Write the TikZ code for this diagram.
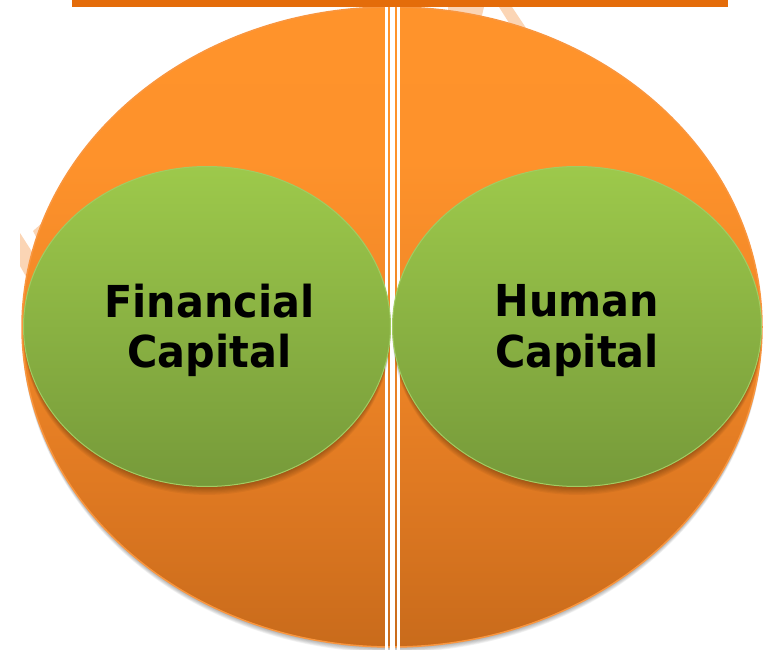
\documentclass[tikz,border=0pt]{standalone}
\usepackage{fontspec}
\setmainfont{DejaVu Sans}
\newfontfamily\capfont[FakeStretch=0.94]{DejaVu Sans Bold}
\usetikzlibrary{shapes.geometric}
\definecolor{barorange}{HTML}{E46C0A}
\definecolor{peach}{HTML}{FBD5B5}
\definecolor{bigtop}{HTML}{FF932B}
\definecolor{bighigh}{HTML}{FE922B}
\definecolor{bigmid}{HTML}{F08727}
\definecolor{biglow}{HTML}{DF7922}
\definecolor{bigbot}{HTML}{C96B1B}
\definecolor{bigedge}{HTML}{F9963F}
\definecolor{greentop}{HTML}{9DC94B}
\definecolor{greenbot}{HTML}{769A3A}
\definecolor{greenedge}{HTML}{A2CC62}
\pgfdeclareverticalshading{bigshade}{100bp}{
  color(0bp)=(bigbot); color(25bp)=(bigbot); color(37.5bp)=(biglow);
  color(50bp)=(bigmid); color(63bp)=(bighigh); color(75bp)=(bigtop); color(100bp)=(bigtop)}
\tikzset{
  x=1pt,y=-1pt,
  bigball/.style={ellipse,inner sep=0pt,minimum width=740pt,minimum height=640pt,
    shading=bigshade,draw=bigedge,line width=1.5pt},
  greenball/.style={ellipse,inner sep=0pt,minimum width=367pt,minimum height=320pt,
    top color=greentop,bottom color=greenbot,draw=greenedge,line width=1pt},
  captext/.style={align=center,text=black,inner sep=0pt,yshift=-4pt,
    font=\fontsize{44}{50.5}\selectfont\capfont},
  stripe/.style={fill=white,draw=none},
  watermark/.style={fill=peach,draw=none},
}
\begin{document}
\begin{tikzpicture}
\useasboundingbox (0,0) rectangle (769,650);
% watermark behind the disc
\fill[watermark] (448,7) -- (484,7) -- (480,24) -- (448,24) -- cycle;
\fill[watermark] (499,7) -- (512,7) -- (530,34) -- (516,34) -- cycle;
\fill[watermark] (20,233) -- (36,258) -- (28,280) -- (20,266) -- cycle;
\fill[watermark] (33,231) -- (42,223) -- (50,223) -- (40,245) -- cycle;
% soft shadow of the disc
\foreach \d in {1,...,7}{
  \fill[black,opacity=0.05] (392,{327+\d*0.8}) ellipse (370 and 320);
}
\node[bigball] (disc) at (392,327) {};
% top bar
\fill[barorange] (72,0) rectangle (728,7);
% vertical double line
\fill[stripe] (385,7) rectangle (387.8,650);
\fill[stripe] (390,7) rectangle (395,650);
\fill[stripe] (397,7) rectangle (399.8,650);
% soft shadows of the two circles
\foreach \d in {1,...,7}{
  \fill[black,opacity=0.045] (207,{326.5+\d*1.2}) ellipse (183.5 and 160);
  \fill[black,opacity=0.045] (577,{326.5+\d*1.2}) ellipse (184.5 and 160);
}
\node[greenball] (fin) at (207,326.5) {};
\node[greenball,minimum width=369pt] (hum) at (577,326.5) {};
\node[captext,xshift=2.5pt] (fintext) at (fin.center) {Financial\\Capital};
\node[captext] (humtext) at (hum.center) {Human\\Capital};
\end{tikzpicture}
\end{document}
